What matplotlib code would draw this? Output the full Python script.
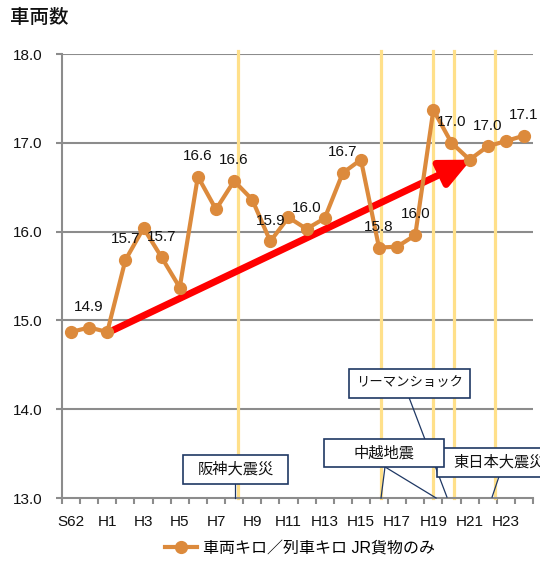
import numpy as np
import matplotlib
matplotlib.use('Agg')
from matplotlib import pyplot as plt
from matplotlib.patches import Rectangle, FancyArrowPatch

plt.rcParams['font.family'] = ['Liberation Sans', 'Noto Sans CJK JP']

# data
years = ['S62', 'S63'] + ['H%d' % i for i in range(1, 25)]
values = [14.87, 14.92, 14.87, 15.68, 16.04, 15.71, 15.37, 16.62, 16.25, 16.57,
          16.36, 15.89, 16.16, 16.03, 16.15, 16.66, 16.81, 15.82, 15.83, 15.96,
          17.37, 17.00, 16.81, 16.96, 17.02, 17.08]
labeled = [1, 3, 5, 7, 9, 11, 13, 15, 17, 19, 21, 23, 25]
event_x = [9.2, 17.11, 19.98, 21.14, 23.4]
series_name = '車両キロ／列車キロ JR貨物のみ'

orange = '#DC8A3C'
grid_c = '#8C8C8C'
navy = '#1F3864'

fig = plt.figure(figsize=(5.4, 5.65), dpi=100)
ax = fig.add_axes([62/540, 67/565, 471/540, 444/565])

x = np.arange(len(years))
ax.set_xlim(-0.5, 25.5)
ax.set_ylim(13.0, 18.0)

# grid
for v in np.arange(14.0, 18.01, 1.0):
    ax.axhline(v, color=grid_c, lw=1.5, zorder=1)

# event lines
for ex in event_x:
    ax.plot([ex, ex], [13.0, 18.03], color='#FFE08A', lw=2.3, zorder=2, clip_on=False)

# trend arrow
arr = FancyArrowPatch((2.32, 14.89), (22.08, 16.81),
                      arrowstyle='-|>,head_length=0.9,head_width=0.42',
                      mutation_scale=20, color='#FF0000', lw=5,
                      shrinkA=0, shrinkB=0, zorder=3)
ax.add_patch(arr)

ax.plot(x, values, color=orange, lw=3, marker='o', markersize=8.5,
        label=series_name, zorder=4)

for i in labeled:
    ax.annotate('%.1f' % values[i], (x[i], values[i]), xytext=(0, 15),
                textcoords='offset points', ha='center', va='center',
                fontsize=11, color='#111111', zorder=6)

# callouts
def box(x0, x1, y0, y1, text, tx, z, fs=11):
    ax.add_patch(Rectangle((x0, y0), x1 - x0, y1 - y0, facecolor='white',
                           edgecolor=navy, lw=1.2, zorder=z, clip_on=False))
    ax.text(tx, (y0 + y1) / 2, text, ha='center', va='center', fontsize=fs,
            color='#111111', zorder=z + 0.1, clip_on=False)

def pointer(p0, p1, z):
    ax.plot([p0[0], p1[0]], [p0[1], p1[1]], color=navy, lw=0.9, zorder=z,
            clip_on=False)

pointer((18.66, 14.13), (20.75, 13.01), 7)
pointer((23.62, 13.24), (23.24, 13.01), 7)
box(20.2, 27.0, 13.236, 13.563, '東日本大震災', 23.62, 8)
pointer((17.33, 13.35), (17.11, 13.0), 9)
pointer((17.33, 13.35), (20.15, 13.0), 9)
box(13.96, 20.59, 13.349, 13.664, '中越地震', 17.28, 10)
box(15.34, 22.02, 14.126, 14.453, 'リーマンショック', 18.68, 10, fs=9.6)
pointer((9.05, 13.16), (9.05, 13.0), 9)
box(6.18, 11.98, 13.158, 13.484, '阪神大震災', 9.08, 10)

# axes styling
for s in ['top', 'right']:
    ax.spines[s].set_visible(False)
for s in ['left', 'bottom']:
    ax.spines[s].set_color(grid_c)
    ax.spines[s].set_linewidth(1.5)
    ax.spines[s].set_zorder(5)

ax.set_yticks(np.arange(13.0, 18.01, 1.0))
ax.set_yticklabels(['%.1f' % v for v in np.arange(13.0, 18.01, 1.0)])
ax.tick_params(axis='y', length=4, width=1.5, color=grid_c, pad=10,
               labelsize=11, labelcolor='#111111')

ax.set_xticks(x[::2])
ax.set_xticklabels(years[::2])
ax.set_xticks(np.arange(-0.5, 25.6, 1.0), minor=True)
ax.tick_params(axis='x', which='major', length=0, pad=12, labelsize=11,
               labelcolor='#111111')
ax.tick_params(axis='x', which='minor', length=4, width=1.5, color=grid_c)

fig.text(10/540, 1 - 18/565, '車両数', fontsize=14, fontweight='medium',
         va='center', ha='left', color='#111111')

fig.legend(loc='center', bbox_to_anchor=(300/540, 1 - 548/565), frameon=False,
           fontsize=11.5, handlelength=2.0, handletextpad=0.4)

plt.savefig('out.png', dpi=100)
